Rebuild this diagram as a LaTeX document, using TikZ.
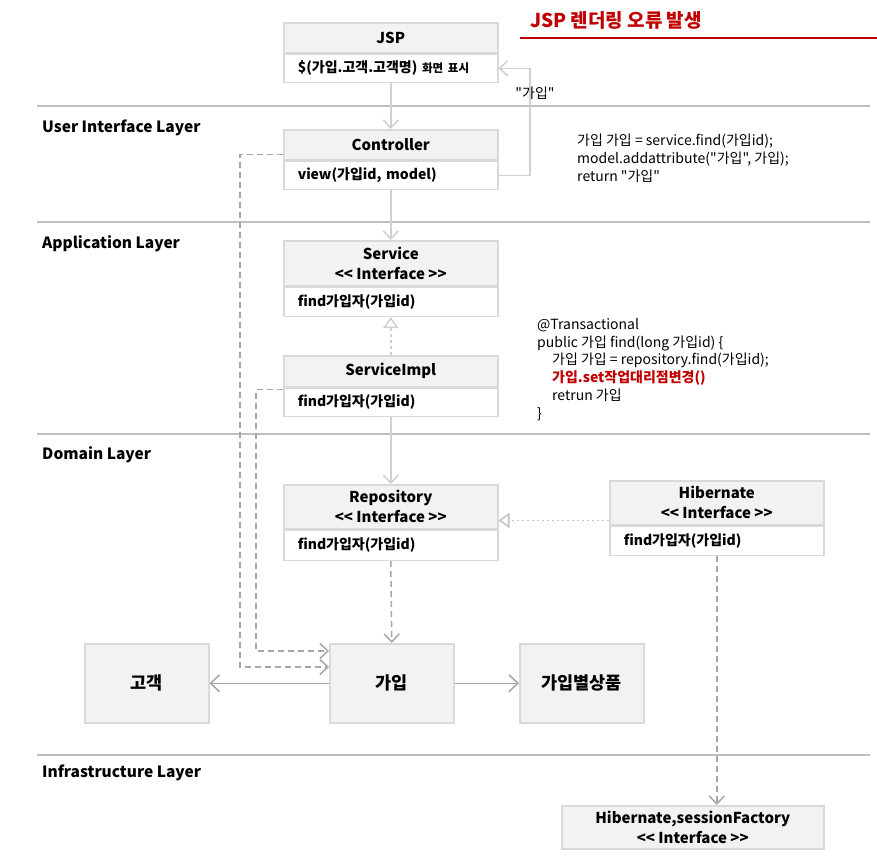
\documentclass[tikz,border=0pt]{standalone}
\usepackage{fontspec}
\newfontfamily\kr{Noto Sans CJK KR}
\usetikzlibrary{arrows.meta,positioning,calc}

\definecolor{boxline}{HTML}{D9D9D9}
\definecolor{boxfill}{HTML}{F2F2F2}
\definecolor{layergray}{HTML}{BFBFBF}
\definecolor{flowgray}{HTML}{D0D0D0}
\definecolor{depgray}{HTML}{A6A6A6}
\definecolor{titlered}{HTML}{C00000}

\tikzset{
  hdr/.style={draw=boxline, fill=boxfill, line width=1.5pt, minimum width=214pt,
    inner sep=0pt, align=center, anchor=north west, font=\bfseries\fontsize{15}{20}\selectfont},
  bdy/.style={draw=boxline, fill=white, line width=1.5pt, inner xsep=14pt, inner ysep=0pt,
    text width=186pt, align=left, anchor=north, font=\bfseries\fontsize{14}{16}\selectfont},
  ent/.style={draw=boxline, fill=boxfill, line width=1.5pt, minimum width=124pt,
    minimum height=79pt, anchor=north west, font=\bfseries\fontsize{17.5}{20}\selectfont},
  layerlbl/.style={anchor=west, inner sep=0pt, font=\bfseries\fontsize{15.5}{18}\selectfont},
  layerline/.style={draw=layergray, line width=2.5pt},
  code/.style={anchor=north west, inner sep=0pt, align=left, font=\fontsize{14}{17.8}\selectfont},
  flow/.style={draw=flowgray, line width=1.5pt, -{Straight Barb[length=8pt,width=15pt]}},
  realize/.style={draw=flowgray, line width=1.5pt, dashed, -{Triangle[open,fill=white,length=11pt,width=15pt]}},
  depend/.style={draw=depgray, line width=1.5pt, dash pattern=on 6pt off 4pt, -{Straight Barb[length=8pt,width=15pt]}},
  assoc/.style={draw=depgray, line width=1.5pt, -{Straight Barb[length=9pt,width=17pt]}}
}

\begin{document}
\kr
\begin{tikzpicture}[x=1pt, y=-1pt]
  \useasboundingbox (0,0) rectangle (877,862);

  % title
  \node[anchor=west, inner sep=0pt, text=titlered, font=\bfseries\fontsize{19}{22}\selectfont] (title) at (530,20) {JSP 렌더링 오류 발생};
  \draw[titlered, line width=1.5pt] (520,38) -- (877,38);

  % layers
  \draw[layerline] (37,106) -- (870,106);
  \draw[layerline] (37,222) -- (870,222);
  \draw[layerline] (37,434) -- (870,434);
  \draw[layerline] (37,755) -- (870,755);
  \node[layerlbl] (uil) at (42,128) {User Interface Layer};
  \node[layerlbl] (appl) at (42,244) {Application Layer};
  \node[layerlbl] (doml) at (42,455) {Domain Layer};
  \node[layerlbl] (infl) at (42,773) {Infrastructure Layer};

  % classes
  \node[hdr, minimum height=30pt] (jsp) at (283,22) {JSP};
  \node[bdy, minimum height=28pt] (jspb) at (jsp.south) {\$(가입.고객.고객명) {\fontsize{11.5}{13}\selectfont 화면 표시}};

  \node[hdr, minimum height=30pt] (ctl) at (283,129) {Controller};
  \node[bdy, minimum height=28pt] (ctlb) at (ctl.south) {view(가입id, model)};

  \node[hdr, minimum height=45pt] (svc) at (283,240) {Service\\<\kern0pt< Interface >\kern0pt>};
  \node[bdy, minimum height=29pt] (svcb) at (svc.south) {find가입자(가입id)};

  \node[hdr, minimum height=31pt] (impl) at (283,355) {ServiceImpl};
  \node[bdy, minimum height=28pt] (implb) at (impl.south) {find가입자(가입id)};

  \node[hdr, minimum height=44pt] (repo) at (283,484) {Repository\\<\kern0pt< Interface >\kern0pt>};
  \node[bdy, minimum height=30pt] (repob) at (repo.south) {find가입자(가입id)};

  \node[hdr, minimum height=44pt] (hib) at (609,480) {Hibernate\\<\kern0pt< Interface >\kern0pt>};
  \node[bdy, minimum height=29pt] (hibb) at (hib.south) {find가입자(가입id)};

  \node[hdr, minimum width=262pt, minimum height=43pt] (sf) at (561,805) {Hibernate,sessionFactory\\<\kern0pt< Interface >\kern0pt>};

  % entities
  \node[ent] (gok) at (84,643) {고객};
  \node[ent] (gaip) at (329,643) {가입};
  \node[ent] (prod) at (519,643) {가입별상품};

  % code notes
  \node[code] (ctlcode) at (577,134) {가입 가입 = service.find(가입id);\\model.addattribute("가입", 가입);\\return "가입"};
  \node[code] (svccode) at (537,318) {@Transactional\\public 가입 find(long 가입id) \{\\
    \hspace*{15pt}가입 가입 = repository.find(가입id);\\
    \hspace*{15pt}{\color{titlered}\bfseries 가입.set작업대리점변경()}\\
    \hspace*{15pt}retrun 가입\\\}};

  % connectors
  \draw[flow] (jspb.south) -- (ctl.north);
  \coordinate (retx) at (530,120);
  \draw[flow] (ctlb.east) -| (retx) |- (jspb.east);
  \node[inner sep=0pt, font=\fontsize{14}{16}\selectfont] (retlbl) at (535,93) {"가입"};
  \draw[flow] (ctlb.south) -- (svc.north);
  \draw[realize] (impl.north) -- (svcb.south);
  \draw[flow] (implb.south) -- (repo.north);
  \path (hib.south west) ++(0,-5) coordinate (hibl);
  \draw[realize, draw=depgray!70, dash pattern=on 2.5pt off 2.5pt] (hibl) -- (hibl -| repo.east);
  \draw[depend] (repob.south) -- (gaip.north);
  \draw[depend] (hibb.south) -- (hibb.south |- sf.north);

  \path (gaip.north west) ++(0,8) coordinate (g1) ++(0,16) coordinate (g2);
  \path (ctl.south west) ++(0,-6) coordinate (ctlw);
  \path (impl.south west) ++(0,2) coordinate (implw);
  \coordinate (lane1) at (240,400);
  \coordinate (lane2) at (256,400);
  \draw[depend] (ctlw) -| (lane1) |- (g2);
  \draw[depend] (implw) -| (lane2) |- (g1);

  \draw[assoc] (gaip.west) -- (gok.east);
  \draw[assoc] (gaip.east) -- (prod.west);
\end{tikzpicture}
\end{document}
